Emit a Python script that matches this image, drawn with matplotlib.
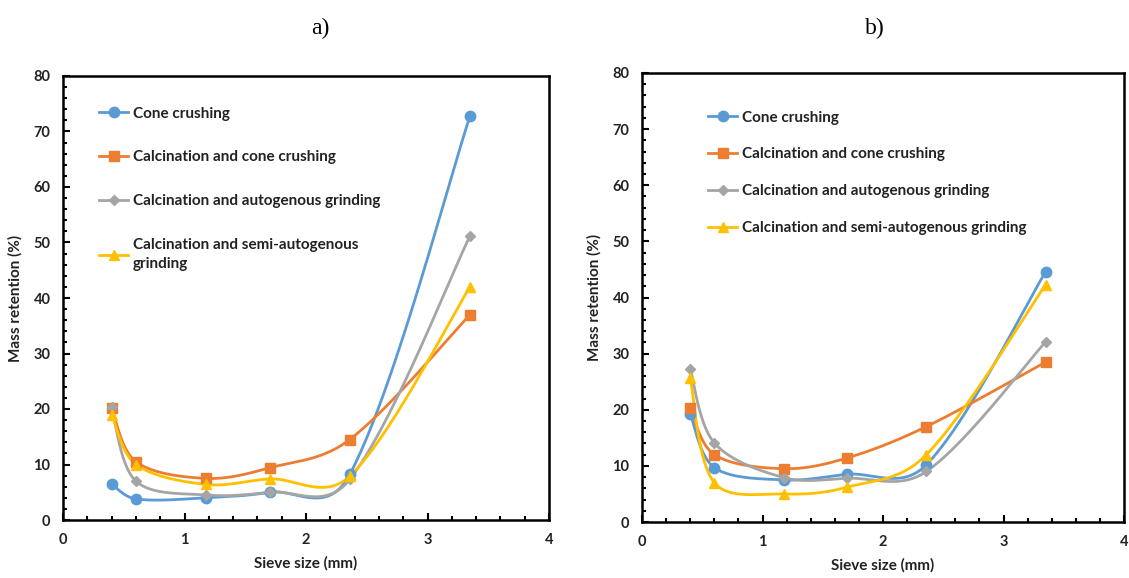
import numpy as np
import matplotlib
matplotlib.use("Agg")
import matplotlib.pyplot as plt
from matplotlib.ticker import MultipleLocator
from matplotlib.lines import Line2D

plt.rcParams['font.family'] = ['Lato', 'DejaVu Sans']

sieve_sizes = [0.4, 0.6, 1.18, 1.7, 2.36, 3.35]
series_names = ["Cone crushing", "Calcination and cone crushing",
                "Calcination and autogenous grinding",
                "Calcination and semi-autogenous grinding"]

a_cone = [6.5, 3.8, 4.0, 5.0, 8.2, 72.8]
a_calc_cone = [20.2, 10.5, 7.5, 9.4, 14.5, 37.0]
a_calc_auto = [20.3, 7.0, 4.5, 5.0, 7.3, 51.2]
a_calc_sag = [19.0, 10.0, 6.4, 7.4, 7.9, 42.0]

b_cone = [19.3, 9.7, 7.5, 8.5, 10.2, 44.6]
b_calc_cone = [20.3, 12.0, 9.5, 11.4, 17.0, 28.5]
b_calc_auto = [27.3, 14.1, 7.9, 7.8, 9.0, 32.1]
b_calc_sag = [25.7, 7.0, 5.0, 6.2, 12.0, 42.3]

colors = ['#5B9BD5', '#ED7D31', '#A5A5A5', '#FFC000']
markers = ['o', 's', 'D', '^']
msizes = [7.5, 6.5, 5, 7.5]


def smooth(x, y, sx, sy, n=50, blend=0.5):
    """Excel-like smoothed line: Bezier segments; tangent arms are a blend of
    uniform Catmull-Rom arms and segment-length-weighted arms (screen units)."""
    P = np.column_stack([np.asarray(x, float) * sx, np.asarray(y, float) * sy])
    m = len(P)
    d = np.linalg.norm(np.diff(P, axis=0), axis=1)
    Q = np.vstack([P[0], P, P[-1]])
    t = np.linspace(0, 1, n)[:, None]
    out = []

    def arms(i):
        # returns (incoming offset, outgoing offset) at point i
        cr = (Q[i + 2] - Q[i]) / 6.0
        if 0 < i < m - 1:
            T = (P[i + 1] - P[i - 1]) / (d[i - 1] + d[i])
            w_in, w_out = T * d[i - 1] / 3.0, T * d[i] / 3.0
        elif i == 0:
            w_in = w_out = (P[1] - P[0]) / 6.0
        else:
            w_in = w_out = (P[-1] - P[-2]) / 6.0
        return (blend * cr + (1 - blend) * w_in, blend * cr + (1 - blend) * w_out)

    A = [arms(i) for i in range(m)]
    for i in range(m - 1):
        p1, p2 = P[i], P[i + 1]
        c1 = p1 + A[i][1]
        c2 = p2 - A[i + 1][0]
        seg = ((1 - t) ** 3) * p1 + 3 * ((1 - t) ** 2) * t * c1 + 3 * (1 - t) * t ** 2 * c2 + t ** 3 * p2
        out.append(seg if i == 0 else seg[1:])
    out = np.vstack(out)
    return out[:, 0] / sx, out[:, 1] / sy


fig = plt.figure(figsize=(11.29, 5.78), dpi=100)
W, H = 1129, 578
axA = fig.add_axes([63 / W, 1 - 520 / H, (549 - 63) / W, (520 - 76) / H])
axB = fig.add_axes([642 / W, 1 - 522 / H, (1124 - 642) / W, (522 - 73) / H])

panels = [
    (axA, [a_cone, a_calc_cone, a_calc_auto, a_calc_sag],
     ["Cone crushing", "Calcination and cone crushing",
      "Calcination and autogenous grinding",
      "Calcination and semi-autogenous\ngrinding"], 1.95, (0.062, 0.945), "a)", 320),
    (axB, [b_cone, b_calc_cone, b_calc_auto, b_calc_sag],
     series_names, 1.5, (0.125, 0.93), "b)", 875),
]

for ax, data, labels, lspace, anchor, title, tx in panels:
    bbox = ax.get_position()
    sx = bbox.width * W / 4.0
    sy = bbox.height * H / 80.0
    handles = []
    for ys, c, m, ms, lab in zip(data, colors, markers, msizes, labels):
        px, py = smooth(sieve_sizes, ys, sx, sy)
        ax.plot(px, py, color=c, lw=2, zorder=2, solid_capstyle='round')
        ax.plot(sieve_sizes, ys, linestyle='none', marker=m, ms=ms, color=c, zorder=3)
        handles.append(Line2D([], [], color=c, lw=2, marker=m, ms=ms))
    ax.set_xlim(0, 4)
    ax.set_ylim(0, 80)
    ax.xaxis.set_major_locator(MultipleLocator(1))
    ax.xaxis.set_minor_locator(MultipleLocator(0.2))
    ax.yaxis.set_major_locator(MultipleLocator(10))
    ax.yaxis.set_minor_locator(MultipleLocator(2))
    ax.tick_params(which='both', direction='in', top=False, right=False,
                   width=1.5, labelsize=10.5)
    ax.tick_params(which='major', length=5, pad=9)
    ax.tick_params(which='minor', length=3)
    for lbl in ax.get_xticklabels() + ax.get_yticklabels():
        lbl.set_fontweight('bold')
        lbl.set_color('#222222')
    for sp in ax.spines.values():
        sp.set_linewidth(1.8)
        sp.set_color('black')
    ax.set_xlabel("Sieve size (mm)", fontsize=11, fontweight='bold', color='#222222', labelpad=7)
    ax.set_ylabel("Mass retention (%)", fontsize=11, fontweight='bold', color='#222222', labelpad=8)
    leg = ax.legend(handles, labels, loc='upper left', bbox_to_anchor=anchor,
                    frameon=False, fontsize=11, labelspacing=lspace,
                    handlelength=1.9, handletextpad=0.3, borderaxespad=0)
    for tt in leg.get_texts():
        tt.set_fontweight('bold')
        tt.set_color('#222222')
        tt.set_linespacing(1.45)
    fig.text(tx / W, 1 - 28 / H, title, ha='center', va='center',
             fontsize=17, family='Liberation Serif')

fig.savefig('out.png', dpi=100, facecolor='white')
